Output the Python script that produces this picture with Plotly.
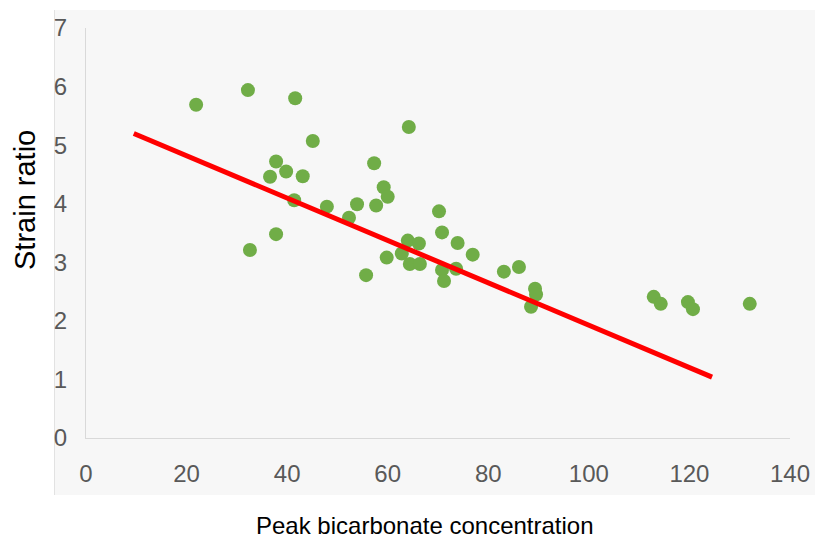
import plotly.graph_objects as go

# Data
bicarbonate = [21.9, 32.2, 41.6, 45.1, 64.2, 37.8, 39.8, 36.6, 43.1, 41.4,
               47.9, 53.9, 52.3, 57.3, 59.2, 60.0, 57.7, 37.8, 32.6, 55.7,
               59.8, 62.8, 64.0, 66.2, 64.4, 66.4, 70.2, 70.8, 73.9, 76.9,
               70.8, 71.2, 73.6, 83.1, 86.1, 89.3, 89.5, 88.5, 112.9, 114.3,
               119.7, 120.7, 132.0]
strain_ratio = [5.69, 5.94, 5.80, 5.07, 5.31, 4.72, 4.55, 4.46, 4.47, 4.06,
                3.95, 3.99, 3.76, 4.69, 4.28, 4.12, 3.97, 3.48, 3.21, 2.78,
                3.08, 3.15, 3.37, 3.32, 2.97, 2.97, 3.87, 3.51, 3.33, 3.13,
                2.87, 2.68, 2.89, 2.84, 2.92, 2.55, 2.45, 2.24, 2.41, 2.29,
                2.32, 2.20, 2.29]
trend_x = [9.5, 124.5]
trend_y = [5.2, 1.04]

x_ticks = [0, 20, 40, 60, 80, 100, 120, 140]
y_ticks = [0, 1, 2, 3, 4, 5, 6, 7]

W, H = 815, 540
L, R, T, B = 86, 25, 28, 102
pw, ph = W - L - R, H - T - B

def px_to_paper_x(px):
    return (px - L) / pw

def px_to_paper_y(py):
    return (H - B - py) / ph

fig = go.Figure()
fig.add_trace(go.Scatter(
    x=bicarbonate, y=strain_ratio, mode="markers",
    marker=dict(color="#70ad47", size=14, line=dict(width=0)),
    showlegend=False, hoverinfo="x+y"))
fig.add_trace(go.Scatter(
    x=trend_x, y=trend_y, mode="lines",
    line=dict(color="#ff0000", width=5),
    showlegend=False, hoverinfo="skip"))

tick_font = dict(family="Liberation Sans Narrow, Arial Narrow, Liberation Sans, Arial, sans-serif",
                 size=24, color="#595959")

fig.update_layout(
    width=W, height=H,
    margin=dict(l=L, r=R, t=T, b=B, pad=0),
    paper_bgcolor="white",
    plot_bgcolor="rgba(0,0,0,0)",
    xaxis=dict(range=[0, 140], tickvals=x_ticks, ticktext=[str(v) for v in x_ticks],
               automargin=False,
               showgrid=False, zeroline=False, showline=True, linecolor="#d9d9d9",
               linewidth=1, ticks="", tickfont=tick_font, ticklabelstandoff=14),
    yaxis=dict(range=[0, 7], tickvals=y_ticks, ticktext=[str(v) for v in y_ticks],
               automargin=False,
               showgrid=False, zeroline=False, showline=True, linecolor="#d9d9d9",
               linewidth=1, ticks="", tickfont=tick_font, ticklabelstandoff=13),
    shapes=[
        dict(type="rect", xref="paper", yref="paper", layer="below",
             x0=px_to_paper_x(54), x1=px_to_paper_x(815),
             y0=px_to_paper_y(495), y1=px_to_paper_y(10),
             fillcolor="#f7f7f7", line=dict(width=0)),
        dict(type="line", xref="paper", yref="paper", layer="below",
             x0=px_to_paper_x(54.5), x1=px_to_paper_x(54.5),
             y0=px_to_paper_y(495), y1=px_to_paper_y(10),
             line=dict(color="#e2e2e2", width=1)),
    ],
    annotations=[
        dict(text="Peak bicarbonate concentration", xref="paper", yref="paper",
             x=px_to_paper_x(425), y=px_to_paper_y(525), xanchor="center", yanchor="middle",
             showarrow=False, font=dict(family="Liberation Sans, Arial, sans-serif", size=24, color="#000000")),
        dict(text="Strain ratio", xref="paper", yref="paper", textangle=-90,
             x=px_to_paper_x(25), y=px_to_paper_y(200), xanchor="center", yanchor="middle",
             showarrow=False, font=dict(family="Liberation Sans, Arial, sans-serif", size=29, color="#000000")),
    ],
)

fig.write_html("out.html", config={"displayModeBar": False},
               post_script="document.body.style.margin='0';document.body.style.overflow='hidden';")
